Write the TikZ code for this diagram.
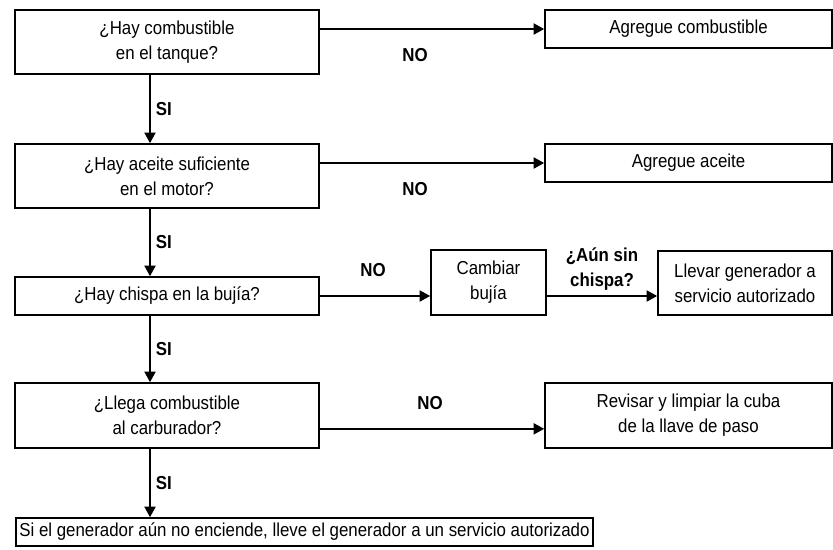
\documentclass[tikz,border=0pt]{standalone}
\usepackage{fontspec}
\setmainfont{Liberation Sans}[FakeStretch=0.9]
\usetikzlibrary{arrows.meta, positioning, calc}
\newcommand{\boxfont}{\fontsize{16}{21.3}\selectfont}
\tikzset{
  decision/.style={rectangle, draw=black, fill=white,
    minimum width=9.12cm, minimum height=1.92cm, align=center,
    font=\boxfont, inner sep=2pt, line width=1.4pt},
  action/.style={rectangle, draw=black, fill=white,
    minimum width=8.61cm, minimum height=1.14cm, align=center,
    font=\boxfont, inner sep=2pt, line width=1.4pt},
  lbl/.style={font=\boxfont\bfseries, align=center},
  arrow/.style={-{Triangle[length=9pt, width=9.5pt]}, line width=1.3pt, color=black}
}
\begin{document}
\begin{tikzpicture}[x=0.03cm, y=-0.03cm]
  \useasboundingbox (0,0) rectangle (833,549);

  % Fuel in tank
  \node[decision] (fuel) at (167,42) {¿Hay combustible\\en el tanque?};
  \node[action] (addfuel) at (688.5,29) {Agregue combustible};

  % Oil
  \node[decision] (oil) at (167,176) {¿Hay aceite suficiente\\en el motor?};
  \node[action] (addoil) at (688.5,163) {Agregue aceite};

  % Spark
  \node[decision, minimum height=1.14cm] (spark) at (167,296) {¿Hay chispa en la bujía?};
  \node[action, minimum width=3.45cm, minimum height=1.95cm] (plug) at (488.5,282.5) {Cambiar\\bujía};
  \node[action, minimum width=5.22cm, minimum height=1.92cm] (shop) at (745,283) {Llevar generador a\\servicio autorizado};

  % Carburetor
  \node[decision, minimum height=1.95cm] (carb) at (167,415.5) {¿Llega combustible\\al carburador?};
  \node[action, minimum height=1.95cm] (clean) at (688.5,415.5) {Revisar y limpiar la cuba\\de la llave de paso};

  % Last step
  \node[action, anchor=west, minimum width=0pt, minimum height=0.84cm, inner xsep=3pt] (final) at (15,532) {Si el generador aún no enciende, lleve el generador a un servicio autorizado};

  % Labels
  \node[lbl] (no1) at (415,55) {NO};
  \node[lbl] (no2) at (415,189) {NO};
  \node[lbl] (no3) at (373,270) {NO};
  \node[lbl] (no4) at (430,403) {NO};

  % Paths
  \coordinate (trunk) at (150,0);
  \draw[arrow] (fuel.south -| trunk) -- (oil.north -| trunk) node[midway, right=1pt, lbl] {SI};
  \draw[arrow] (oil.south -| trunk) -- (spark.north -| trunk) node[midway, right=1pt, lbl] {SI};
  \draw[arrow] (spark.south -| trunk) -- (carb.north -| trunk) node[midway, right=1pt, lbl] {SI};
  \draw[arrow] (carb.south -| trunk) -- (final.north -| trunk) node[midway, right=1pt, lbl] {SI};

  \draw[arrow] (fuel.east |- addfuel.west) -- (addfuel.west);
  \draw[arrow] (oil.east |- addoil.west) -- (addoil.west);
  \draw[arrow] (spark.east) -- (spark.east -| plug.west);
  \draw[arrow] (plug.east |- spark.east) -- (shop.west |- spark.east) node[midway, above=1pt, lbl] {¿Aún sin\\chispa?};
  \draw[arrow] ([yshift=-0.4cm]carb.east) -- ([yshift=-0.4cm]clean.west);
\end{tikzpicture}
\end{document}
